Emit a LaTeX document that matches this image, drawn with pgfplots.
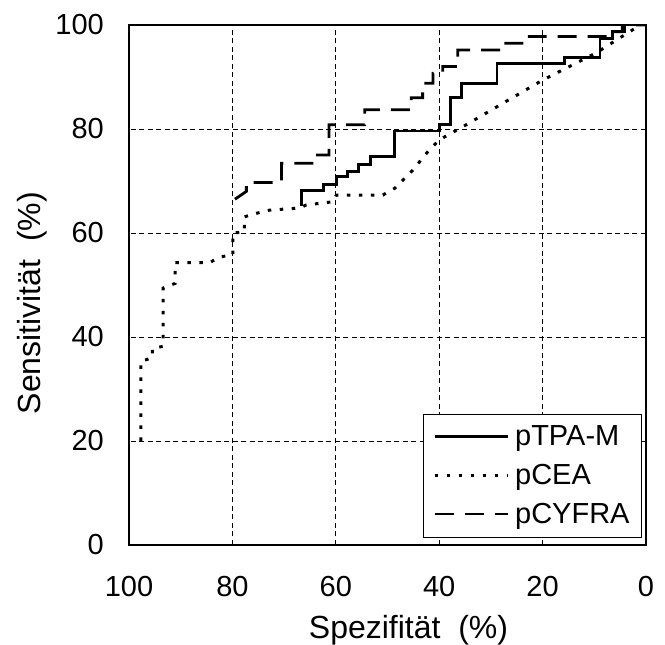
\documentclass[border=0pt]{standalone}
\usepackage{fontspec}
\setmainfont{Liberation Sans}
\usepackage{pgfplots}
\pgfplotsset{compat=1.18}

\begin{document}
\begin{tikzpicture}
\begin{axis}[
    scale only axis,
    width=517pt,
    height=520pt,
    xmin=0, xmax=100,
    ymin=0, ymax=100,
    x dir=reverse,
    xtick={0,20,40,60,80,100},
    ytick={0,20,40,60,80,100},
    major tick length=0pt,
    grid=major,
    grid style={black, line width=0.8pt, dash pattern=on 5pt off 3.5pt},
    axis line style={line width=2.6pt},
    /pgf/number format/assume math mode=true,
    ticklabel style={font=\fontsize{29}{34}\selectfont, inner sep=0pt},
    xticklabel style={anchor=center, yshift=-42pt},
    yticklabel style={anchor=east, xshift=-25pt},
    legend cell align=left,
    legend style={at={(rel axis cs:0.992,0.015)}, anchor=south east,
        draw=black, line width=0.6pt, fill=white,
        font=\fontsize{29}{34}\selectfont,
        inner xsep=10pt, inner ysep=10pt, row sep=13pt, column sep=4pt,
        nodes={inner sep=2pt}},
    legend image code/.code={\draw[#1] (0pt,0pt) -- (73pt,0pt);},
]
\coordinate (O) at (rel axis cs:0,0);

% pTPA-M
\addplot[black, line width=2.8pt] coordinates {
    (66.7,65.1) (66.7,68.1) (62.4,68.1) (62.4,69.4) (59.9,69.4) (59.9,70.8)
    (57.7,70.8) (57.7,71.9) (55.6,71.9) (55.6,73.2) (53.3,73.2) (53.3,74.7)
    (48.6,74.7) (48.6,79.6) (40.0,79.6) (40.0,80.8) (37.8,80.8) (37.8,86.1)
    (35.7,86.1) (35.7,88.7) (28.8,88.7) (28.8,92.6) (15.7,92.6) (15.7,93.7)
    (8.9,93.7) (8.9,97.4) (6.5,97.4) (6.5,98.7) (4.2,98.7) (4.2,100) (0,100)
};
\addlegendentry{pTPA-M}

% pCEA
\addplot[black, line width=3pt, dash pattern=on 3.5pt off 8.5pt] coordinates {
    (97.7,20) (97.7,35.3) (95.5,36) (95.5,37.8) (93.4,38.2) (93.4,49.4)
    (91.1,50.3) (91.1,54.3) (84.4,54.3) (82.4,55.4) (79.9,55.8) (79.9,60)
    (77.7,60.2) (77.7,63.1) (75.3,63.8) (72.8,64.4) (67,64.8) (65.7,65.4)
    (60.6,66) (59.9,67.3) (50.9,67.3) (48.6,68.6) (45.1,72.1) (41.9,76)
    (40,77.9) (35.5,80.4) (20,89.4) (9.7,94.6) (2.7,99) (1,100)
};
\addlegendentry{pCEA}

% pCYFRA
\addplot[black, line width=2.8pt, dash pattern=on 19pt off 11pt] coordinates {
    (79.5,66.5) (77.3,68) (77.3,69.7) (70.5,69.7) (70.5,73.4)
    (63.8,73.4) (63.8,75) (61.3,75) (61.3,80.8) (54.4,80.8) (54.4,83.7)
    (45.4,83.7) (45.4,86) (43.2,86) (43.2,88.8) (41.2,88.8) (41.2,90.7)
    (39.3,90.7) (39.3,92) (36.4,92) (36.4,95.2) (27.1,95.2) (27.1,96.5)
    (22.6,96.5) (22.6,97.8) (6.5,97.8) (6.5,98.7) (4.6,98.7) (4.6,100) (0,100)
};
\addlegendentry{pCYFRA}
\end{axis}
\node[rotate=90, font=\fontsize{32}{38}\selectfont] at ([shift={(-97pt,242pt)}]O) {Sensitivität\ \ (\%)};
\node[font=\fontsize{32}{38}\selectfont] at ([shift={(279.5pt,-85pt)}]O) {Spezifität\ \ (\%)};
\pgfresetboundingbox
\path ([shift={(-129pt,-100pt)}]O) rectangle ([shift={(536pt,545pt)}]O);
\end{tikzpicture}
\end{document}
